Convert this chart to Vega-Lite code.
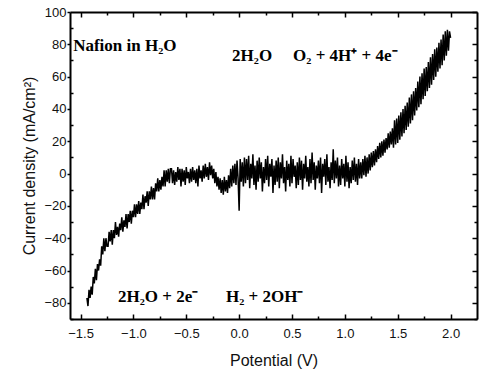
{
"$schema": "https://vega.github.io/schema/vega-lite/v6.json",
"autosize": {"type": "none"},
"padding": {"left": 70, "top": 12, "right": 15, "bottom": 59},
"width": 407,
"height": 307,
"background": "white",
"config": {"view": {"stroke": null}, "axis": {"grid": false, "labelFont": "Liberation Sans", "labelFontSize": 13, "labelColor": "#111", "titleFont": "Liberation Sans", "titleFontSize": 16, "titleFontWeight": "normal", "titleColor": "#111", "domainColor": "black", "domainWidth": 2, "tickColor": "black", "tickWidth": 1.5}},
"datasets": {
"curve": [
{"V":-1.44,"J":-77},{"V":-1.43,"J":-82},{"V":-1.42,"J":-72},{"V":-1.41,"J":-77},{"V":-1.40,"J":-70},{"V":-1.39,"J":-75},{"V":-1.38,"J":-64},{"V":-1.37,"J":-68},{"V":-1.36,"J":-59},{"V":-1.35,"J":-66},
{"V":-1.34,"J":-56},{"V":-1.33,"J":-60},{"V":-1.32,"J":-53},{"V":-1.31,"J":-57},{"V":-1.30,"J":-45},{"V":-1.29,"J":-50},{"V":-1.28,"J":-40},{"V":-1.27,"J":-48},{"V":-1.26,"J":-40},{"V":-1.25,"J":-45},
{"V":-1.24,"J":-45},{"V":-1.23,"J":-36},{"V":-1.22,"J":-42},{"V":-1.21,"J":-35},{"V":-1.20,"J":-44},{"V":-1.19,"J":-35},{"V":-1.18,"J":-40},{"V":-1.17,"J":-30},{"V":-1.16,"J":-38},{"V":-1.15,"J":-33},
{"V":-1.14,"J":-39},{"V":-1.13,"J":-31},{"V":-1.12,"J":-35},{"V":-1.11,"J":-27},{"V":-1.10,"J":-36},{"V":-1.09,"J":-29},{"V":-1.08,"J":-33},{"V":-1.07,"J":-25},{"V":-1.06,"J":-34},{"V":-1.05,"J":-25},
{"V":-1.04,"J":-30},{"V":-1.03,"J":-23},{"V":-1.02,"J":-31},{"V":-1.01,"J":-23},{"V":-1.00,"J":-27},{"V":-0.99,"J":-19},{"V":-0.98,"J":-27},{"V":-0.97,"J":-19},{"V":-0.96,"J":-25},{"V":-0.95,"J":-17},
{"V":-0.94,"J":-25},{"V":-0.93,"J":-18},{"V":-0.92,"J":-22},{"V":-0.91,"J":-13},{"V":-0.90,"J":-22},{"V":-0.89,"J":-14},{"V":-0.88,"J":-18},{"V":-0.87,"J":-11},{"V":-0.86,"J":-20},{"V":-0.85,"J":-11},
{"V":-0.84,"J":-16},{"V":-0.83,"J":-8},{"V":-0.82,"J":-16},{"V":-0.81,"J":-9},{"V":-0.80,"J":-16},{"V":-0.79,"J":-6},{"V":-0.78,"J":-11},{"V":-0.77,"J":-3},{"V":-0.76,"J":-11},{"V":-0.75,"J":-4},
{"V":-0.74,"J":-10},{"V":-0.73,"J":-2},{"V":-0.72,"J":-8},{"V":-0.71,"J":2},{"V":-0.70,"J":-8},{"V":-0.69,"J":2},{"V":-0.68,"J":-5},{"V":-0.67,"J":3},{"V":-0.66,"J":-6},{"V":-0.65,"J":3},
{"V":-0.64,"J":3},{"V":-0.63,"J":-6},{"V":-0.62,"J":2},{"V":-0.61,"J":-7},{"V":-0.60,"J":1},{"V":-0.59,"J":-5},{"V":-0.58,"J":4},{"V":-0.57,"J":-4},{"V":-0.56,"J":3},{"V":-0.55,"J":-8},
{"V":-0.54,"J":3},{"V":-0.53,"J":-5},{"V":-0.52,"J":2},{"V":-0.51,"J":-7},{"V":-0.50,"J":4},{"V":-0.49,"J":-3},{"V":-0.48,"J":1},{"V":-0.47,"J":-6},{"V":-0.46,"J":3},{"V":-0.45,"J":-5},
{"V":-0.44,"J":4},{"V":-0.43,"J":-4},{"V":-0.42,"J":2},{"V":-0.41,"J":-6},{"V":-0.40,"J":3},{"V":-0.39,"J":-8},{"V":-0.38,"J":5},{"V":-0.37,"J":-3},{"V":-0.36,"J":2},{"V":-0.35,"J":-5},
{"V":-0.34,"J":5},{"V":-0.33,"J":-3},{"V":-0.32,"J":6},{"V":-0.31,"J":-2},{"V":-0.30,"J":4},{"V":-0.29,"J":-4},{"V":-0.28,"J":7},{"V":-0.27,"J":-1},{"V":-0.26,"J":5},{"V":-0.25,"J":-3},
{"V":-0.24,"J":3},{"V":-0.23,"J":-6},{"V":-0.22,"J":1},{"V":-0.21,"J":-8},{"V":-0.20,"J":-2},{"V":-0.19,"J":-10},{"V":-0.18,"J":-3},{"V":-0.17,"J":-12},{"V":-0.16,"J":-4},{"V":-0.15,"J":-13},
{"V":-0.14,"J":-2},{"V":-0.13,"J":-11},{"V":-0.12,"J":-4},{"V":-0.11,"J":-12},{"V":-0.10,"J":-1},{"V":-0.09,"J":-9},{"V":-0.08,"J":3},{"V":-0.07,"J":-8},{"V":-0.06,"J":5},{"V":-0.05,"J":-6},
{"V":-0.04,"J":6},{"V":-0.03,"J":-7},{"V":-0.02,"J":8},{"V":-0.01,"J":-3},{"V":0.00,"J":-23},{"V":0.01,"J":9},{"V":0.02,"J":-5},{"V":0.03,"J":7},{"V":0.04,"J":-8},{"V":0.05,"J":10},
{"V":0.06,"J":-6},{"V":0.07,"J":9},{"V":0.08,"J":-4},{"V":0.09,"J":11},{"V":0.10,"J":-9},{"V":0.11,"J":6},{"V":0.12,"J":-3},{"V":0.13,"J":12},{"V":0.14,"J":-7},{"V":0.15,"J":5},
{"V":0.16,"J":-10},{"V":0.17,"J":8},{"V":0.18,"J":-5},{"V":0.19,"J":10},{"V":0.20,"J":-3},{"V":0.21,"J":7},{"V":0.22,"J":-11},{"V":0.23,"J":4},{"V":0.24,"J":-6},{"V":0.25,"J":9},
{"V":0.26,"J":-4},{"V":0.27,"J":11},{"V":0.28,"J":-8},{"V":0.29,"J":6},{"V":0.30,"J":-2},{"V":0.31,"J":9},{"V":0.32,"J":-12},{"V":0.33,"J":5},{"V":0.34,"J":-7},{"V":0.35,"J":8},
{"V":0.36,"J":-5},{"V":0.37,"J":10},{"V":0.38,"J":-9},{"V":0.39,"J":7},{"V":0.40,"J":-3},{"V":0.41,"J":12},{"V":0.42,"J":-6},{"V":0.43,"J":4},{"V":0.44,"J":-11},{"V":0.45,"J":8},
{"V":0.46,"J":-4},{"V":0.47,"J":6},{"V":0.48,"J":-8},{"V":0.49,"J":11},{"V":0.50,"J":-6},{"V":0.51,"J":9},{"V":0.52,"J":-2},{"V":0.53,"J":5},{"V":0.54,"J":-9},{"V":0.55,"J":7},
{"V":0.56,"J":-7},{"V":0.57,"J":10},{"V":0.58,"J":-4},{"V":0.59,"J":8},{"V":0.60,"J":-10},{"V":0.61,"J":6},{"V":0.62,"J":-3},{"V":0.63,"J":11},{"V":0.64,"J":-5},{"V":0.65,"J":4},
{"V":0.66,"J":-8},{"V":0.67,"J":9},{"V":0.68,"J":-6},{"V":0.69,"J":13},{"V":0.70,"J":-4},{"V":0.71,"J":7},{"V":0.72,"J":-10},{"V":0.73,"J":5},{"V":0.74,"J":-3},{"V":0.75,"J":8},
{"V":0.76,"J":-6},{"V":0.77,"J":10},{"V":0.78,"J":-12},{"V":0.79,"J":6},{"V":0.80,"J":-2},{"V":0.81,"J":9},{"V":0.82,"J":-7},{"V":0.83,"J":12},{"V":0.84,"J":-5},{"V":0.85,"J":4},
{"V":0.86,"J":-9},{"V":0.87,"J":7},{"V":0.88,"J":-4},{"V":0.89,"J":15},{"V":0.90,"J":-6},{"V":0.91,"J":8},{"V":0.92,"J":-3},{"V":0.93,"J":10},{"V":0.94,"J":-8},{"V":0.95,"J":5},
{"V":0.96,"J":-7},{"V":0.97,"J":9},{"V":0.98,"J":-3},{"V":0.99,"J":6},{"V":1.00,"J":-8},{"V":1.01,"J":11},{"V":1.02,"J":-5},{"V":1.03,"J":7},{"V":1.04,"J":-9},{"V":1.05,"J":4},
{"V":1.06,"J":-6},{"V":1.07,"J":8},{"V":1.08,"J":-4},{"V":1.09,"J":10},{"V":1.10,"J":-5},{"V":1.11,"J":6},{"V":1.12,"J":-7},{"V":1.13,"J":9},{"V":1.14,"J":-3},{"V":1.15,"J":7},
{"V":1.16,"J":-3},{"V":1.17,"J":9},{"V":1.18,"J":-1},{"V":1.19,"J":11},{"V":1.20,"J":-2},{"V":1.21,"J":10},{"V":1.22,"J":0},{"V":1.23,"J":12},{"V":1.24,"J":2},{"V":1.25,"J":13},
{"V":1.26,"J":4},{"V":1.27,"J":14},{"V":1.28,"J":5},{"V":1.29,"J":15},{"V":1.30,"J":7},{"V":1.31,"J":17},{"V":1.32,"J":9},{"V":1.33,"J":19},{"V":1.34,"J":10},{"V":1.35,"J":20},
{"V":1.36,"J":11},{"V":1.37,"J":21},{"V":1.38,"J":13},{"V":1.39,"J":22},{"V":1.40,"J":15},{"V":1.41,"J":25},{"V":1.42,"J":16},{"V":1.43,"J":26},{"V":1.44,"J":18},{"V":1.45,"J":28},
{"V":1.46,"J":16},{"V":1.47,"J":33},{"V":1.48,"J":18},{"V":1.49,"J":34},{"V":1.50,"J":19},{"V":1.51,"J":36},{"V":1.52,"J":21},{"V":1.53,"J":38},{"V":1.54,"J":23},{"V":1.55,"J":40},
{"V":1.56,"J":25},{"V":1.57,"J":42},{"V":1.58,"J":27},{"V":1.59,"J":44},{"V":1.60,"J":29},{"V":1.61,"J":47},{"V":1.62,"J":31},{"V":1.63,"J":49},{"V":1.64,"J":33},{"V":1.65,"J":51},
{"V":1.66,"J":36},{"V":1.67,"J":53},{"V":1.68,"J":39},{"V":1.69,"J":57},{"V":1.70,"J":41},{"V":1.71,"J":60},{"V":1.72,"J":43},{"V":1.73,"J":62},{"V":1.74,"J":46},{"V":1.75,"J":65},
{"V":1.76,"J":48},{"V":1.77,"J":66},{"V":1.78,"J":51},{"V":1.79,"J":69},{"V":1.80,"J":53},{"V":1.81,"J":72},{"V":1.82,"J":55},{"V":1.83,"J":74},{"V":1.84,"J":58},{"V":1.85,"J":77},
{"V":1.86,"J":60},{"V":1.87,"J":78},{"V":1.88,"J":63},{"V":1.89,"J":81},{"V":1.90,"J":65},{"V":1.91,"J":83},{"V":1.92,"J":67},{"V":1.93,"J":86},{"V":1.94,"J":70},{"V":1.95,"J":88},
{"V":1.96,"J":73},{"V":1.97,"J":89},{"V":1.98,"J":76},{"V":1.99,"J":88},{"V":2.00,"J":84}
],
"notes": [
{"V":-1.57,"J":79,"label":"Nafion in H₂O"},
{"V":-0.067,"J":73,"label":"2H₂O"},
{"V":0.51,"J":73,"label":"O₂ + 4H⁺ + 4e⁻"},
{"V":-1.146,"J":-76.4,"label":"2H₂O + 2e⁻"},
{"V":-0.124,"J":-76.4,"label":"H₂ + 2OH⁻"}
]
},
"data": {"name": "curve"},
"layer": [
{
"mark": {"type": "line", "color": "black", "strokeWidth": 1.5, "clip": true},
"encoding": {
"x": {"field": "V", "type": "quantitative", "scale": {"domain": [-1.6, 2.25], "nice": false, "zero": false}, "axis": {"orient": "bottom", "values": [-1.5, -1, -0.5, 0, 0.5, 1, 1.5, 2], "format": ".1f", "ticks": false, "labelPadding": 8, "title": "Potential (V)", "titlePadding": 12}},
"y": {"field": "J", "type": "quantitative", "scale": {"domain": [-90, 100], "nice": false, "zero": false}, "axis": {"orient": "left", "values": [-80, -60, -40, -20, 0, 20, 40, 60, 80, 100], "format": "d", "tickSize": 3, "labelPadding": 1, "title": "Current density (mA/cm²)", "titlePadding": 6}}
}
},
{
"mark": {"type": "point", "opacity": 0},
"encoding": {
"x": {"field": "V", "type": "quantitative", "axis": {"orient": "bottom", "values": [-1.5, -1, -0.5, 0, 0.5, 1, 1.5, 2], "labels": false, "domain": false, "tickSize": -5, "title": null}},
"y": {"field": "J", "type": "quantitative", "axis": {"orient": "left", "values": [-90, -70, -50, -30, -10, 10, 30, 50, 70, 90], "labels": false, "domain": false, "tickSize": -3, "title": null}}
}
},
{
"mark": {"type": "point", "opacity": 0},
"encoding": {
"x": {"field": "V", "type": "quantitative", "axis": {"orient": "bottom", "values": [-1.25, -0.75, -0.25, 0.25, 0.75, 1.25, 1.75], "labels": false, "domain": false, "tickSize": -3, "title": null}},
"y": {"field": "J", "type": "quantitative", "axis": {"orient": "right", "values": [-80, -60, -40, -20, 0, 20, 40, 60, 80, 100], "labels": false, "domain": true, "tickSize": -5, "title": null}}
}
},
{
"mark": {"type": "point", "opacity": 0},
"encoding": {
"x": {"field": "V", "type": "quantitative", "axis": {"orient": "top", "values": [-1.5, -1, -0.5, 0, 0.5, 1, 1.5, 2], "labels": false, "domain": true, "tickSize": -5, "title": null}},
"y": {"field": "J", "type": "quantitative", "axis": {"orient": "right", "values": [-90, -70, -50, -30, -10, 10, 30, 50, 70, 90], "labels": false, "domain": false, "tickSize": -3, "title": null}}
}
},
{
"mark": {"type": "point", "opacity": 0},
"encoding": {
"x": {"field": "V", "type": "quantitative", "axis": {"orient": "top", "values": [-1.25, -0.75, -0.25, 0.25, 0.75, 1.25, 1.75], "labels": false, "domain": false, "tickSize": -3, "title": null}},
"y": {"field": "J", "type": "quantitative", "axis": null}
}
},
{
"data": {"name": "notes"},
"mark": {"type": "text", "font": "Liberation Serif", "fontWeight": "bold", "fontSize": 17, "align": "left", "baseline": "middle", "color": "black"},
"encoding": {
"x": {"field": "V", "type": "quantitative", "axis": null},
"y": {"field": "J", "type": "quantitative", "axis": null},
"text": {"field": "label", "type": "nominal"}
}
}
],
"resolve": {"axis": {"x": "independent", "y": "independent"}}
}
